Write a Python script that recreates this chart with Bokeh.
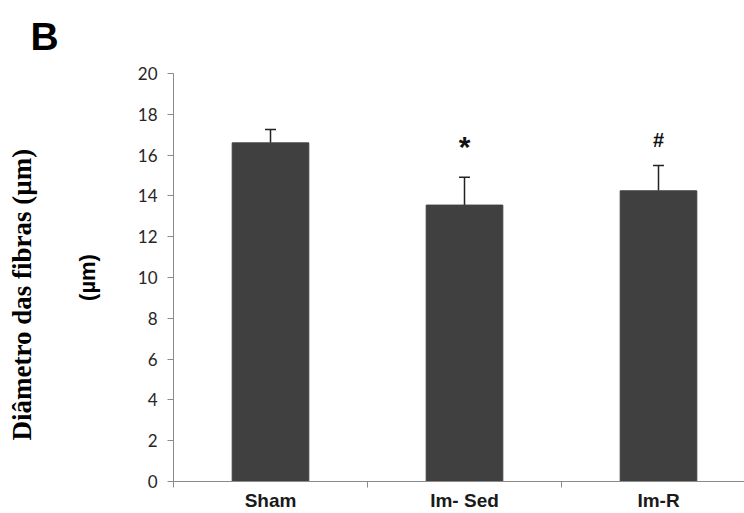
import math
from bokeh.plotting import figure
from bokeh.models import (ColumnDataSource, Whisker, TeeHead, Range1d, FixedTicker,
                          Title)
from bokeh.core.properties import value
from bokeh.embed import file_html
from bokeh.resources import INLINE

# ---- data ----
groups = ["Sham", "Im- Sed", "Im-R"]
means = [16.6, 13.55, 14.25]
sems = [0.65, 1.37, 1.24]
marks = ["", "*", "#"]
y_ticks = [0, 2, 4, 6, 8, 10, 12, 14, 16, 18, 20]

# styling of the significance marks (glyph-dependent size and lift)
mark_size = {"": "20px", "*": "30px", "#": "20px"}
mark_lift = {"": 1.1, "*": 1.5, "#": 1.25}

xc = [i + 0.5 for i in range(len(groups))]
upper = [m + s for m, s in zip(means, sems)]
mark_y = [u + mark_lift[k] for u, k in zip(upper, marks)]
mark_fs = [mark_size[k] for k in marks]

src = ColumnDataSource(dict(x=xc, top=means, upper=upper, mark=marks,
                            my=mark_y, fs=mark_fs))

W, H = 744, 513
FL = 173
p = figure(width=W, height=H, output_backend="svg", toolbar_location=None,
           x_range=Range1d(0, (W - FL) / 194.0), y_range=Range1d(0, 20),
           min_border_left=FL, min_border_right=0, min_border_top=73,
           min_border_bottom=32)
p.outline_line_color = None
p.xgrid.visible = False
p.ygrid.visible = False
p.background_fill_color = "white"

p.vbar(x="x", top="top", bottom=0, width=0.395, source=src,
       fill_color="#404040", line_color="#404040")

wh = Whisker(base="x", lower="top", upper="upper", source=src,
             line_color="#222222", line_width=1.5,
             upper_head=TeeHead(size=11, line_color="#222222", line_width=1.5),
             lower_head=None)
p.add_layout(wh)

p.text(x="x", y="my", text="mark", source=src, text_align="center",
       text_baseline="alphabetic", text_font=value("Liberation Sans"),
       text_font_style="bold", text_font_size="fs", text_color="#111111")

axis_gray = "#8a8a8a"
# y axis
yax = p.yaxis[0]
yax.ticker = FixedTicker(ticks=y_ticks)
yax.axis_line_color = axis_gray
yax.major_tick_line_color = axis_gray
yax.major_tick_out = 6
yax.major_tick_in = 0
yax.minor_tick_line_color = None
yax.major_label_standoff = 10
yax.major_label_text_font = "Lato"
yax.major_label_text_font_size = "17px"
yax.major_label_text_color = "#262626"

# x axis
xax = p.xaxis[0]
xax.ticker = FixedTicker(ticks=xc, minor_ticks=[0, 1, 2, 3])
xax.major_label_overrides = {x: g for x, g in zip(xc, groups)}
xax.axis_line_color = axis_gray
xax.major_tick_line_color = None
xax.major_tick_out = 0
xax.major_tick_in = 0
xax.minor_tick_line_color = axis_gray
xax.minor_tick_out = 6
xax.minor_tick_in = 0
xax.major_label_standoff = 2
xax.major_label_text_font = "Liberation Sans"
xax.major_label_text_font_style = "bold"
xax.major_label_text_font_size = "19px"
xax.major_label_text_color = "#1a1a1a"

# panel letter
p.title.text = "B"
p.title.align = "left"
p.title.vertical_align = "top"
p.title.offset = -143
p.title.standoff = 28
p.title.text_font = "Liberation Sans"
p.title.text_font_style = "bold"
p.title.text_font_size = "39px"
p.title.text_color = "#000000"

# stray fragment next to the axis, then the axis title
frag = Title(text="(µm)", align="center", offset=0, standoff=70,
             text_font="Liberation Sans", text_font_style="bold",
             text_font_size="22px", text_color="#000000")
p.add_layout(frag, "left")
ytitle = Title(text="Diâmetro das fibras (µm)", align="left", offset=41,
               standoff=2, text_font="Liberation Serif",
               text_font_style="bold", text_font_size="27px",
               text_color="#000000")
p.add_layout(ytitle, "left")

open("out.html", "w").write(file_html(p, INLINE))
